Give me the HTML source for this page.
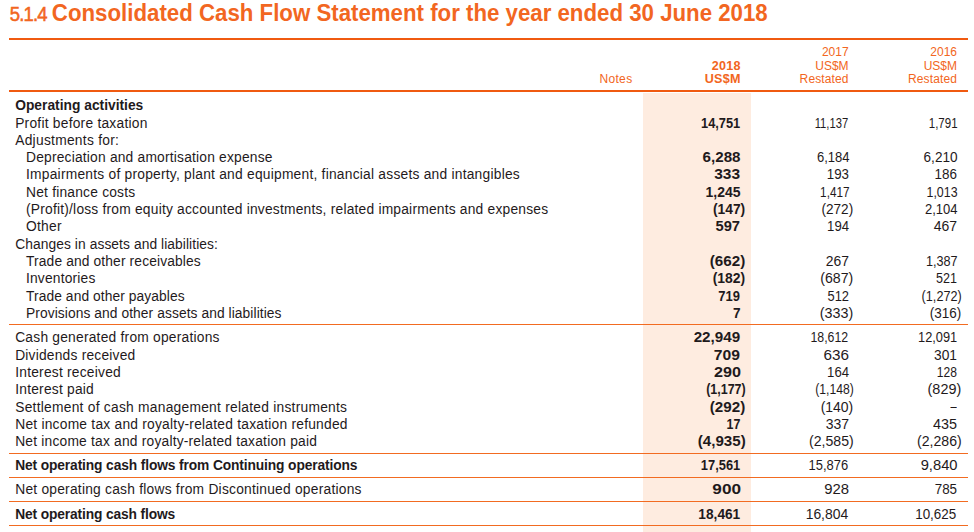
<!DOCTYPE html>
<html><head><meta charset="utf-8"><title>Consolidated Cash Flow Statement</title>
<style>
html,body{margin:0;padding:0;background:#fff;}
body{width:974px;height:532px;position:relative;overflow:hidden;font-family:"Liberation Sans",sans-serif;color:#1f1a1c;}
h1{position:absolute;left:9.7px;top:-0.21px;margin:0;font-size:22.25px;line-height:28px;font-weight:bold;color:#f26621;white-space:nowrap;transform:scaleY(1.075);transform-origin:0 21.71px;}
h1 span{font-weight:normal;font-size:18.5px;letter-spacing:-0.8px;margin-right:5.0px;-webkit-text-stroke:0.5px #f26621;}
.ln{position:absolute;left:0;top:0;}
.hd{position:absolute;text-align:right;color:#f26621;font-size:12px;height:14px;line-height:14px;white-space:nowrap;}
.hd.b{font-size:12.6px;letter-spacing:0.25px;}
.r{position:absolute;left:0;width:974px;height:17px;line-height:17px;font-size:13.8px;letter-spacing:0.4px;}
.r div{position:absolute;top:0;white-space:nowrap;}
.r .n{font-size:13.8px;letter-spacing:0;transform-origin:100% 50%;}
.r .n.b{font-size:13.8px;}
.b{font-weight:bold;}
.r .lb{font-weight:bold;font-size:13.8px;letter-spacing:0.28px;}
</style></head><body>
<h1><span>5.1.4</span>Consolidated Cash Flow Statement for the year ended 30 June 2018</h1>
<div class="hd" style="right:341.5px;top:72px"><span style="letter-spacing:0.35px">Notes</span></div>
<div class="hd b" style="right:233.3px;top:59px">2018</div>
<div class="hd b" style="right:233.3px;top:72px">US$M</div>
<div class="hd" style="right:125.4px;top:45px">2017</div>
<div class="hd" style="right:125.4px;top:59px">US$M</div>
<div class="hd" style="right:125.4px;top:72px"><span style="letter-spacing:0.12px">Restated</span></div>
<div class="hd" style="right:17.0px;top:45px">2016</div>
<div class="hd" style="right:17.0px;top:59px">US$M</div>
<div class="hd" style="right:17.0px;top:72px"><span style="letter-spacing:0.12px">Restated</span></div>
<svg class="ln" width="974" height="532" viewBox="0 0 974 532"><rect x="643" y="93" width="108" height="439" fill="#feece0"/><rect x="9" y="38" width="959" height="2" fill="#f05a10"/><rect x="9" y="90" width="959" height="2" fill="#f05a10"/><rect x="9" y="324" width="959" height="1" fill="#f26b21"/><rect x="9" y="453" width="959" height="1" fill="#f26b21"/><rect x="9" y="477" width="959" height="1" fill="#f26b21"/><rect x="9" y="501" width="959" height="1" fill="#f26b21"/><rect x="9" y="525" width="959" height="1" fill="#f26b21"/></svg>
<div class="r" style="top:97px"><div class="lb" style="left:15.2px;letter-spacing:0.003px">Operating activities</div></div>
<div class="r" style="top:115px"><div style="left:15.2px;letter-spacing:0.229px">Profit before taxation</div><div class="n b" style="right:233.90px;transform:scaleX(0.9276)">14,751</div><div class="n" style="right:125.40px;transform:scaleX(0.8127)">11,137</div><div class="n" style="right:16.80px;transform:scaleX(0.8336)">1,791</div></div>
<div class="r" style="top:132px"><div style="left:15.2px;letter-spacing:0.27px">Adjustments for:</div></div>
<div class="r" style="top:149px"><div style="left:26.0px;letter-spacing:0.199px">Depreciation and amortisation expense</div><div class="n b" style="right:233.15px;transform:scaleX(1.0985)">6,288</div><div class="n" style="right:124.90px;transform:scaleX(0.9444)">6,184</div><div class="n" style="right:16.80px;transform:scaleX(0.9835)">6,210</div></div>
<div class="r" style="top:166px"><div style="left:26.0px;letter-spacing:0.23px">Impairments of property, plant and equipment, financial assets and intangibles</div><div class="n b" style="right:233.65px;transform:scaleX(1.1236)">333</div><div class="n" style="right:125.40px;transform:scaleX(0.9647)">193</div><div class="n" style="right:17.30px;transform:scaleX(0.9741)">186</div></div>
<div class="r" style="top:184px"><div style="left:26.0px;letter-spacing:0.209px">Net finance costs</div><div class="n b" style="right:233.40px;transform:scaleX(1.0135)">1,245</div><div class="n" style="right:124.90px;transform:scaleX(0.8519)">1,417</div><div class="n" style="right:16.80px;transform:scaleX(0.8977)">1,013</div></div>
<div class="r" style="top:201px"><div style="left:26.0px;letter-spacing:0.209px">(Profit)/loss from equity accounted investments, related impairments and expenses</div><div class="n b" style="right:228.80px;transform:scaleX(1.0016)">(147)</div><div class="n" style="right:120.65px;transform:scaleX(0.9851)">(272)</div><div class="n" style="right:16.80px;transform:scaleX(0.9444)">2,104</div></div>
<div class="r" style="top:218px"><div style="left:26.0px;letter-spacing:0.262px">Other</div><div class="n b" style="right:233.65px;transform:scaleX(1.0636)">597</div><div class="n" style="right:125.40px;transform:scaleX(0.9535)">194</div><div class="n" style="right:17.05px;transform:scaleX(1.0136)">467</div></div>
<div class="r" style="top:236px"><div style="left:15.2px;letter-spacing:0.076px">Changes in assets and liabilities:</div></div>
<div class="r" style="top:253px"><div style="left:26.0px;letter-spacing:0.133px">Trade and other receivables</div><div class="n b" style="right:228.80px;transform:scaleX(1.1024)">(662)</div><div class="n" style="right:125.15px;transform:scaleX(1.0093)">267</div><div class="n" style="right:16.80px;transform:scaleX(0.916)">1,387</div></div>
<div class="r" style="top:270px"><div style="left:26.0px;letter-spacing:0.18px">Inventories</div><div class="n b" style="right:228.80px;transform:scaleX(1.0081)">(182)</div><div class="n" style="right:120.65px;transform:scaleX(1.0248)">(687)</div><div class="n" style="right:17.30px;transform:scaleX(0.9116)">521</div></div>
<div class="r" style="top:288px"><div style="left:26.0px;letter-spacing:0.085px">Trade and other payables</div><div class="n b" style="right:233.65px;transform:scaleX(0.9409)">719</div><div class="n" style="right:125.40px;transform:scaleX(0.9349)">512</div><div class="n" style="right:12.60px;transform:scaleX(0.9174)">(1,272)</div></div>
<div class="r" style="top:305px"><div style="left:26.0px;letter-spacing:0.075px">Provisions and other assets and liabilities</div><div class="n b" style="right:233.15px;transform:scaleX(0.9846)">7</div><div class="n" style="right:120.65px;transform:scaleX(1.038)">(333)</div><div class="n" style="right:12.85px;transform:scaleX(0.9785)">(316)</div></div>
<div class="r" style="top:329px"><div style="left:15.2px;letter-spacing:0.221px">Cash generated from operations</div><div class="n b" style="right:233.90px;transform:scaleX(1.103)">22,949</div><div class="n" style="right:125.40px;transform:scaleX(0.8938)">18,612</div><div class="n" style="right:17.30px;transform:scaleX(0.9284)">12,091</div></div>
<div class="r" style="top:347px"><div style="left:15.2px;letter-spacing:0.203px">Dividends received</div><div class="n b" style="right:233.65px;transform:scaleX(1.1364)">709</div><div class="n" style="right:125.15px;transform:scaleX(1.107)">636</div><div class="n" style="right:17.05px;transform:scaleX(0.9977)">301</div></div>
<div class="r" style="top:364px"><div style="left:15.2px;letter-spacing:0.222px">Interest received</div><div class="n b" style="right:233.40px;transform:scaleX(1.1727)">290</div><div class="n" style="right:125.40px;transform:scaleX(0.9535)">164</div><div class="n" style="right:17.30px;transform:scaleX(0.8753)">128</div></div>
<div class="r" style="top:381px"><div style="left:15.2px;letter-spacing:0.221px">Interest paid</div><div class="n b" style="right:228.30px;transform:scaleX(0.9041)">(1,177)</div><div class="n" style="right:120.40px;transform:scaleX(0.8814)">(1,148)</div><div class="n" style="right:12.85px;transform:scaleX(1.0446)">(829)</div></div>
<div class="r" style="top:399px"><div style="left:15.2px;letter-spacing:0.25px">Settlement of cash management related instruments</div><div class="n b" style="right:228.80px;transform:scaleX(1.1024)">(292)</div><div class="n" style="right:120.65px;transform:scaleX(1.0116)">(140)</div><div class="n" style="top:-1px;right:17.55px;transform:scaleX(0.8)">–</div></div>
<div class="r" style="top:416px"><div style="left:15.2px;letter-spacing:0.23px">Net income tax and royalty-related taxation refunded</div><div class="n b" style="right:233.90px;transform:scaleX(0.9)">17</div><div class="n" style="right:125.15px;transform:scaleX(1.0161)">337</div><div class="n" style="right:17.30px;transform:scaleX(1.0427)">435</div></div>
<div class="r" style="top:433px"><div style="left:15.2px;letter-spacing:0.202px">Net income tax and royalty-related taxation paid</div><div class="n b" style="right:228.30px;transform:scaleX(1.0959)">(4,935)</div><div class="n" style="right:120.15px;transform:scaleX(1.0228)">(2,585)</div><div class="n" style="right:12.35px;transform:scaleX(1.0228)">(2,286)</div></div>
<div class="r" style="top:457px"><div class="lb" style="left:15.2px;letter-spacing:-0.13px">Net operating cash flows from Continuing operations</div><div class="n b" style="right:233.90px;transform:scaleX(0.9325)">17,561</div><div class="n" style="right:125.40px;transform:scaleX(0.9383)">15,876</div><div class="n" style="right:16.80px;transform:scaleX(1.0677)">9,840</div></div>
<div class="r" style="top:481px"><div style="left:15.2px;letter-spacing:0.229px">Net operating cash flows from Discontinued operations</div><div class="n b" style="right:233.40px;transform:scaleX(1.2455)">900</div><div class="n" style="right:125.15px;transform:scaleX(1.0791)">928</div><div class="n" style="right:17.30px;transform:scaleX(0.9701)">785</div></div>
<div class="r" style="top:506px"><div class="lb" style="left:15.2px;letter-spacing:-0.139px">Net operating cash flows</div><div class="n b" style="right:233.90px;transform:scaleX(0.9914)">18,461</div><div class="n" style="right:125.65px;transform:scaleX(1.0086)">16,804</div><div class="n" style="right:17.55px;transform:scaleX(0.9718)">10,625</div></div>
</body></html>
